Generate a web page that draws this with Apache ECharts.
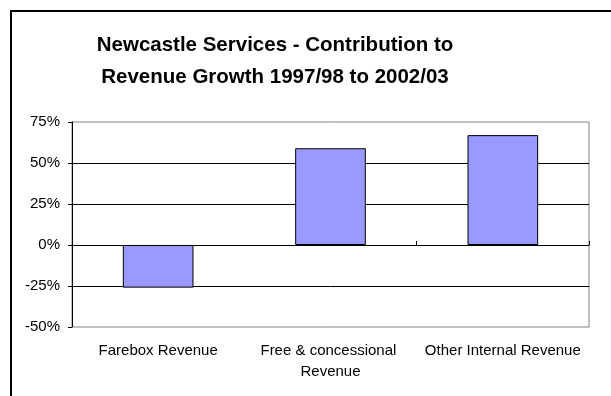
<!DOCTYPE html>
<html>
<head>
<meta charset="utf-8">
<script src="https://cdn.jsdelivr.net/npm/echarts@6/dist/echarts.min.js"></script>
<style>
html,body{margin:0;padding:0;background:#fff;}
#chart{width:611px;height:396px;}
</style>
</head>
<body>
<div id="chart"></div>
<script>
const titleLines = ['Newcastle Services - Contribution to', 'Revenue Growth 1997/98 to 2002/03'];
const categories = ['Farebox Revenue', 'Free & concessional Revenue', 'Other Internal Revenue'];
const values = [-26, 59, 67];
const yTicks = { min: -50, max: 75, interval: 25 };

const font = 'Liberation Sans, Arial, sans-serif';
const chart = echarts.init(document.getElementById('chart'), null, { renderer: 'canvas' });
chart.setOption({
  animation: false,
  backgroundColor: '#fff',
  graphic: [
    { type: 'rect', shape: { x: 11, y: 11, width: 800, height: 600 },
      style: { fill: 'none', stroke: '#000', lineWidth: 2 }, z: -1 },
    { type: 'text', x: 275, y: 29,
      style: { text: titleLines.join('\n'), textAlign: 'center', fill: '#000',
               font: 'bold 20.5px ' + font, lineHeight: 32 } }
  ],
  grid: { left: 72, right: 22, top: 122, bottom: 69, show: true,
          borderColor: '#808080', borderWidth: 1, backgroundColor: 'transparent' },
  xAxis: [
    { type: 'category', data: categories, position: 'bottom',
      axisLine: { show: false, onZero: false }, axisTick: { show: false },
      axisLabel: { color: '#000', fontFamily: font, fontSize: 15, margin: 13, lineHeight: 21,
                   width: 170, overflow: 'break', interval: 0 } },
    { type: 'category', data: categories,
      axisLine: { show: true, onZero: true, lineStyle: { color: '#000', width: 1 } },
      axisTick: { show: true, length: 4, lineStyle: { color: '#000' } },
      axisLabel: { show: false } }
  ],
  yAxis: {
    type: 'value', min: yTicks.min, max: yTicks.max, interval: yTicks.interval,
    axisLine: { show: true, lineStyle: { color: '#000', width: 1 } },
    axisTick: { show: true, length: 4, lineStyle: { color: '#000' } },
    axisLabel: { formatter: '{value}%', color: '#000', fontFamily: font, fontSize: 15, margin: 12 },
    splitLine: { show: true, showMinLine: false, showMaxLine: false, lineStyle: { color: '#000', width: 1 } }
  },
  series: [{
    type: 'bar', data: values, xAxisIndex: 0, barWidth: '41%',
    itemStyle: { color: '#9999FF', borderColor: '#000', borderWidth: 1 }
  }]
});
</script>
</body>
</html>
